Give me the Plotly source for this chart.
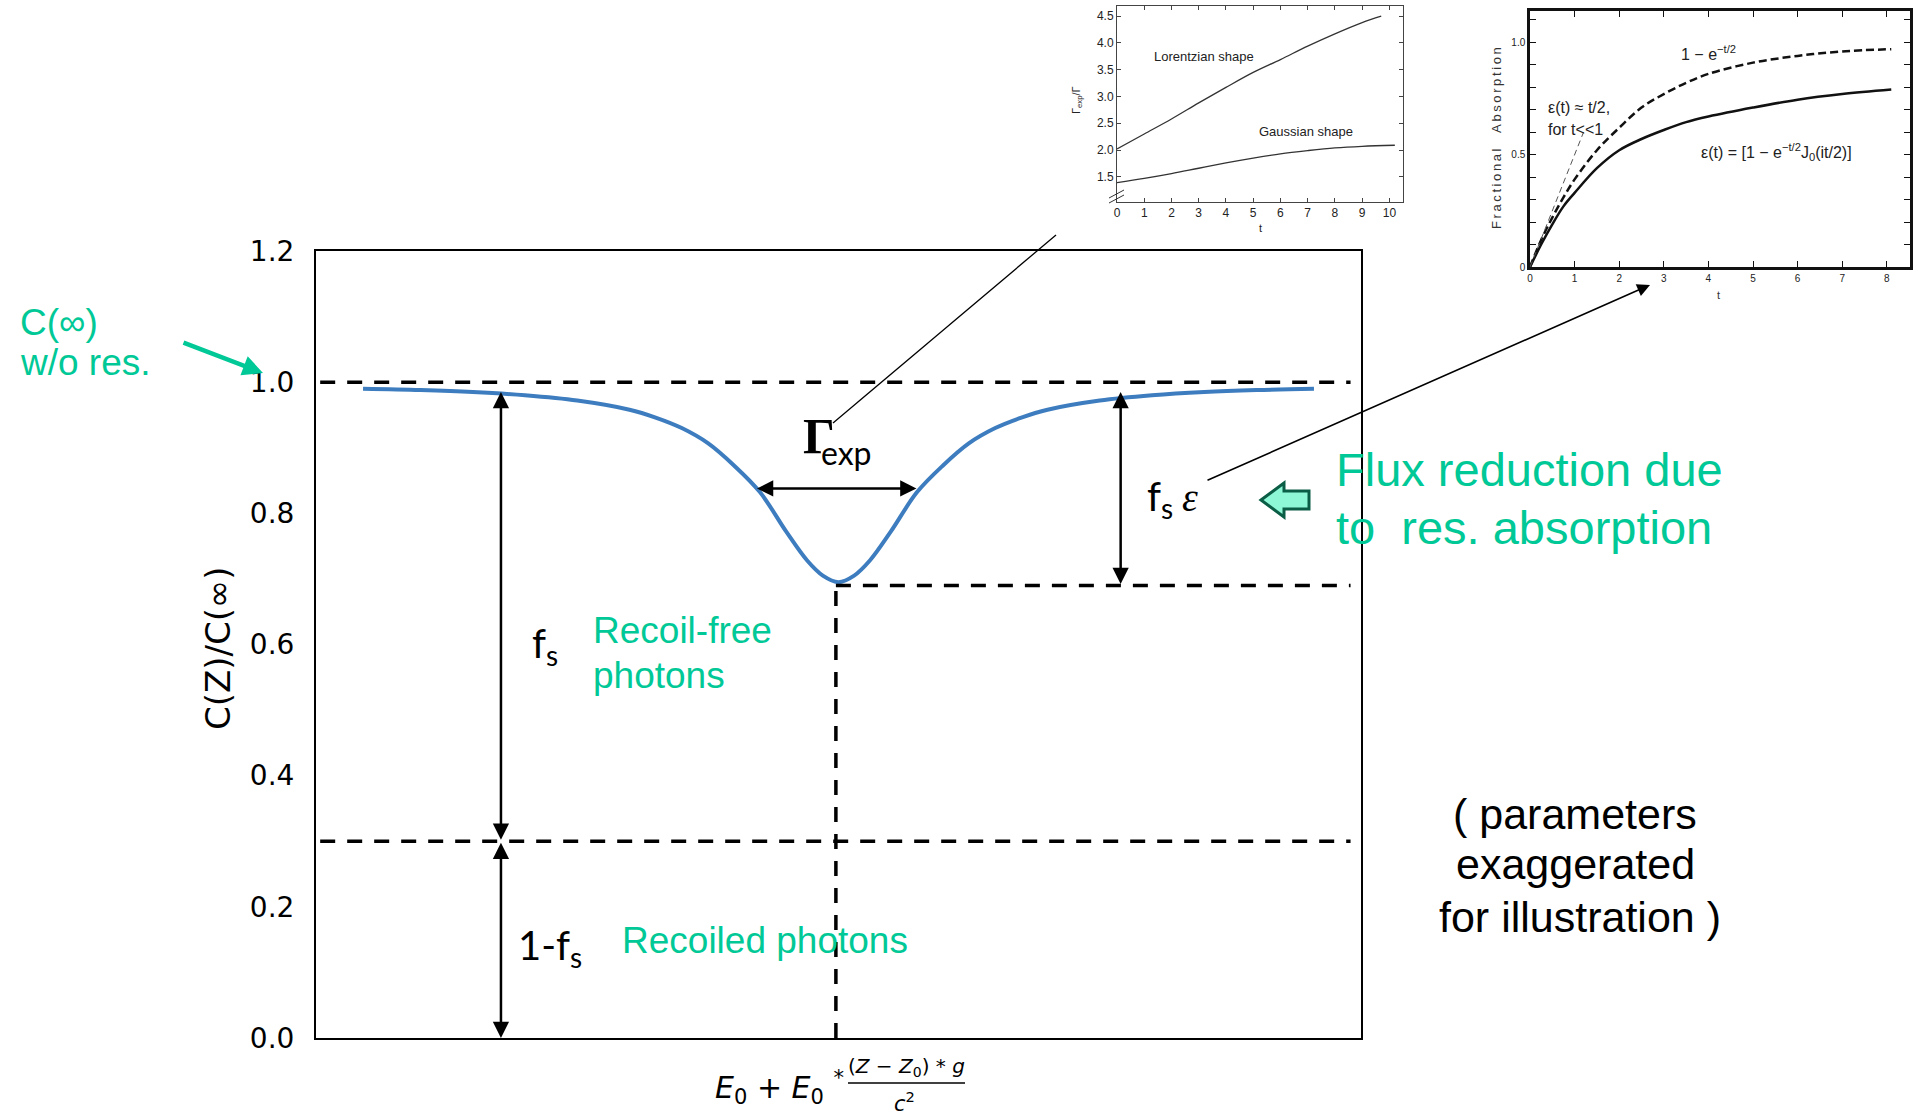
import plotly.graph_objects as go

W, H = 1919, 1117

# ---------------- data ----------------
# main curve: C(Z)/C(inf) vs energy offset (arbitrary units)
main_x = [-9.1, -8, -7, -6, -5, -4, -3.5, -3, -2.5, -2, -1.5, -1, -0.6, -0.3, 0,
          0.3, 0.6, 1, 1.5, 2, 2.5, 3, 3.5, 4, 5, 6, 7, 8, 9.1]
main_y = [0.990, 0.988, 0.985, 0.980, 0.972, 0.958, 0.946, 0.930, 0.907, 0.873, 0.832,
          0.772, 0.728, 0.705, 0.695, 0.705, 0.728, 0.772, 0.832, 0.873, 0.907, 0.930,
          0.946, 0.958, 0.972, 0.980, 0.985, 0.988, 0.990]
level_top = 1.0
level_dip = 0.69
level_fs = 0.3
dip_x = -0.05
y_ticks = [0.0, 0.2, 0.4, 0.6, 0.8, 1.0, 1.2]

# inset 1: Gamma_exp / Gamma vs t
lor_t = [0, 1, 2, 3, 4, 5, 6, 7, 8, 9, 9.7]
lor_y = [2.02, 2.30, 2.58, 2.88, 3.17, 3.45, 3.69, 3.94, 4.17, 4.38, 4.50]
gau_t = [0, 1, 2, 3, 4, 5, 6, 7, 8, 9, 10.2]
gau_y = [1.39, 1.47, 1.56, 1.66, 1.76, 1.85, 1.93, 1.99, 2.04, 2.07, 2.09]

# inset 2: fractional absorption vs t
abs_t = [0, 0.25, 0.5, 0.75, 1, 1.5, 2, 2.5, 3, 3.5, 4, 5, 6, 7, 8.1]
abs_exp = [0, 0.12, 0.22, 0.31, 0.39, 0.52, 0.62, 0.71, 0.77, 0.82, 0.86, 0.91, 0.94, 0.96, 0.97]
abs_eps = [0, 0.10, 0.19, 0.27, 0.33, 0.44, 0.52, 0.57, 0.61, 0.645, 0.67, 0.71, 0.745, 0.77, 0.79]
lin_t = [0, 1.2]
lin_y = [0, 0.6]

GREEN = "#00C896"
SANS = "Liberation Sans, Arial, sans-serif"
CAL = "Lato, sans-serif"


def px(x):
    return x / W


def py(y):
    return 1 - y / H


fig = go.Figure()

# main
fig.add_trace(go.Scatter(x=main_x, y=main_y, mode="lines", line=dict(color="#3D7DBF", width=4),
                         line_shape="spline", xaxis="x", yaxis="y", showlegend=False, hoverinfo="skip"))
# inset 1
fig.add_trace(go.Scatter(x=lor_t, y=lor_y, mode="lines", line=dict(color="#333", width=1.3),
                         line_shape="spline", xaxis="x2", yaxis="y2", showlegend=False))
fig.add_trace(go.Scatter(x=gau_t, y=gau_y, mode="lines", line=dict(color="#333", width=1.3),
                         line_shape="spline", xaxis="x2", yaxis="y2", showlegend=False))
# inset 2
fig.add_trace(go.Scatter(x=abs_t, y=abs_exp, mode="lines",
                         line=dict(color="#111", width=2.5, dash="8px,4px"),
                         line_shape="spline", xaxis="x3", yaxis="y3", showlegend=False))
fig.add_trace(go.Scatter(x=abs_t, y=abs_eps, mode="lines", line=dict(color="#111", width=2.5),
                         line_shape="spline", xaxis="x3", yaxis="y3", showlegend=False))
fig.add_trace(go.Scatter(x=lin_t, y=lin_y, mode="lines", line=dict(color="#555", width=1, dash="6px,4px"),
                         xaxis="x3", yaxis="y3", showlegend=False))

dash_main = "15px,12px"
shapes = [
    dict(type="line", xref="x", yref="y", x0=-9.92, x1=9.8, y0=level_top, y1=level_top,
         line=dict(color="black", width=3.5, dash=dash_main)),
    dict(type="line", xref="x", yref="y", x0=-9.92, x1=9.8, y0=level_fs, y1=level_fs,
         line=dict(color="black", width=3.5, dash=dash_main)),
    dict(type="line", xref="x", yref="y", x0=dip_x, x1=9.8, y0=level_dip, y1=level_dip,
         line=dict(color="black", width=3.5, dash=dash_main)),
    dict(type="line", xref="x", yref="y", x0=dip_x, x1=dip_x, y0=0, y1=level_dip,
         line=dict(color="black", width=3.5, dash=dash_main)),
    # pointer to inset 1
    dict(type="line", xref="paper", yref="paper", x0=px(833), y0=py(423), x1=px(1056), y1=py(235),
         line=dict(color="black", width=1.3)),
    # fraction bar
    dict(type="line", xref="paper", yref="paper", x0=px(848), y0=py(1083), x1=px(965), y1=py(1083),
         line=dict(color="black", width=1.5)),
    # inset 1 axis break
    dict(type="line", xref="paper", yref="paper", x0=px(1109), y0=py(203), x1=px(1124), y1=py(195),
         line=dict(color="#333", width=1)),
    dict(type="line", xref="paper", yref="paper", x0=px(1109), y0=py(198), x1=px(1124), y1=py(190),
         line=dict(color="#333", width=1)),
]
# block arrow (pointing left)
pts = [(1261, 500), (1284, 483), (1284, 491), (1309, 491), (1309, 509), (1284, 509), (1284, 517)]
path = "M " + " L ".join(f"{px(a):.5f},{py(b):.5f}" for a, b in pts) + " Z"
shapes.append(dict(type="path", xref="paper", yref="paper", path=path,
                   fillcolor="#8DF7D6", line=dict(color="#0B5E45", width=3)))

ann = []


def txt(x, y, text, size, color="black", family=SANS, xanchor="left", angle=0):
    ann.append(dict(xref="paper", yref="paper", x=px(x), y=py(y), text=text, showarrow=False,
                    xanchor=xanchor, yanchor="middle", textangle=angle,
                    font=dict(size=size, color=color, family=family)))


def darrow(x0, y0, x1, y1):
    ann.append(dict(xref="x", yref="y", axref="x", ayref="y", x=x0, y=y0, ax=x1, ay=y1, text="",
                    showarrow=True, arrowside="end+start", arrowhead=2, startarrowhead=2,
                    arrowsize=1.3, startarrowsize=1.3, arrowwidth=2.5, arrowcolor="black",
                    standoff=0, startstandoff=0))


darrow(-6.46, 0.985, -6.46, level_fs)
darrow(-6.46, 0.0, -6.46, level_fs)
darrow(5.4, 0.985, 5.4, level_dip)
darrow(-1.56, 0.838, 1.52, 0.838)

# pointer arrow to inset 2
ann.append(dict(xref="paper", yref="paper", x=px(1650), y=py(285), axref="pixel", ayref="pixel",
                ax=1206 - 1650, ay=481 - 285, text="", showarrow=True, arrowhead=2, arrowsize=1.6,
                arrowwidth=1.6, arrowcolor="black", standoff=0))
# green arrow
ann.append(dict(xref="paper", yref="paper", x=px(263), y=py(373), axref="pixel", ayref="pixel",
                ax=182 - 263, ay=342 - 373, text="", showarrow=True, arrowhead=2, arrowsize=0.9,
                arrowwidth=4.5, arrowcolor=GREEN, standoff=0))

# main texts
txt(18, 322, "C(∞)", 37, GREEN)
txt(18, 362, "w/o res.", 37, GREEN)
txt(801, 436, "Γ", 50, family="Liberation Serif, serif")
ann[-1]["font"]["weight"] = "bold"
txt(819, 452, "exp", 32, family=CAL)
txt(1145, 499, "f<sub>s</sub>", 40, family=CAL)
txt(1180, 497, "<i>ε</i>", 40, family="Liberation Serif, serif")
txt(1334, 469, "Flux reduction due", 47, GREEN)
txt(1334, 527, "to  res. absorption", 47, GREEN)
txt(530, 645, "f<sub>s</sub>", 40, family=CAL)
txt(591, 630, "Recoil-free", 37, GREEN)
txt(591, 675, "photons", 37, GREEN)
txt(516, 947, "1-f<sub>s</sub>", 40, family=CAL)
txt(620, 940, "Recoiled photons", 37, GREEN)
txt(1575, 814, "( parameters", 43, xanchor="center")
txt(1575, 864, "exaggerated", 43, xanchor="center")
txt(1580, 917, "for illustration )", 43, xanchor="center")
# axis titles
txt(218, 648, "C(Z)/C(∞)", 34, family="DejaVu Sans", xanchor="center", angle=-90)
txt(846, 1087, "<i>E</i><sub>0</sub> + <i>E</i><sub>0</sub> <sup>*</sup>", 30, family="DejaVu Sans",
    xanchor="right")
txt(906, 1067, "(<i>Z</i> − <i>Z</i><sub>0</sub>) * <i>g</i>", 20, family="DejaVu Sans", xanchor="center")
txt(904, 1102, "<i>c</i><sup>2</sup>", 21, family="DejaVu Sans", xanchor="center")

# inset 1 texts
txt(1152, 57, "Lorentzian shape", 13, "#222")
txt(1257, 132, "Gaussian shape", 13, "#222")
txt(1077, 100, "Γ<sub>exp</sub>/Γ", 11, "#222", xanchor="center", angle=-90)
txt(1260, 228, "t", 11, "#222", xanchor="center")
# inset 2 texts
txt(1679, 53, "1 − e<sup>−t/2</sup>", 16, "#222")
txt(1546, 107, "ε(t) ≈ t/2,", 16, "#222")
txt(1546, 129, "for t&lt;&lt;1", 16, "#222")
txt(1699, 152, "ε(t) = [1 − e<sup>−t/2</sup>J<sub>0</sub>(it/2)]", 16, "#222")
ts = "\u2009"
frac_title = ts.join("Fractional") + ts * 6 + ts.join("Absorption")
txt(1497, 138, frac_title, 13, "#333", xanchor="center", angle=-90)
txt(1718, 295, "t", 11, "#333", xanchor="center")

ax_common = dict(showgrid=False, zeroline=False, automargin=False)

layout = dict(
    width=W, height=H, margin=dict(l=0, r=0, t=0, b=0, pad=0), autosize=False,
    paper_bgcolor="white", plot_bgcolor="rgba(0,0,0,0)",
    showlegend=False,
    xaxis=dict(domain=[px(316), px(1361)], range=[-10, 10], showticklabels=False, ticks="",
               showline=True, mirror=True, linecolor="black", linewidth=2, **ax_common),
    yaxis=dict(domain=[py(1038), py(251)], range=[0, 1.2], tickvals=y_ticks, tickformat=".1f",
               ticks="", ticklabelstandoff=14, tickfont=dict(family="DejaVu Sans", size=28, color="black"),
               showline=True, mirror=True, linecolor="black", linewidth=2, **ax_common),
    xaxis2=dict(domain=[px(1117), px(1403)], range=[0, 10.5], anchor="y2", tickvals=list(range(11)),
                ticks="inside", ticklen=4, tickcolor="#444", mirror="allticks", showline=True,
                linecolor="#444", linewidth=1, tickfont=dict(family=SANS, size=12, color="#222"),
                **ax_common),
    yaxis2=dict(domain=[py(202), py(6)], range=[1.03, 4.69], anchor="x2",
                tickvals=[1.5, 2.0, 2.5, 3.0, 3.5, 4.0, 4.5], tickformat=".1f",
                ticks="inside", ticklen=4, tickcolor="#444", mirror="allticks", showline=True,
                linecolor="#444", linewidth=1, tickfont=dict(family=SANS, size=12, color="#222"),
                **ax_common),
    xaxis3=dict(domain=[px(1530), px(1910)], range=[0, 8.52], anchor="y3", tickvals=list(range(9)),
                ticks="inside", ticklen=6, tickcolor="#111", mirror="allticks", showline=True,
                linecolor="#111", linewidth=2.5, tickfont=dict(family=SANS, size=10, color="#222"),
                **ax_common),
    yaxis3=dict(domain=[py(267), py(11)], range=[0, 1.14], anchor="x3",
                tickvals=[i / 10 for i in range(12)],
                ticktext=["0", "", "", "", "", "0.5", "", "", "", "", "1.0", ""],
                ticks="inside", ticklen=6, tickcolor="#111", mirror="allticks", showline=True,
                linecolor="#111", linewidth=2.5, tickfont=dict(family=SANS, size=10, color="#222"),
                **ax_common),
    shapes=shapes,
    annotations=ann,
)
fig.update_layout(**layout)

fig.write_html("out.html", config={"displayModeBar": False, "responsive": False},
               post_script="document.body.style.margin='0';")
